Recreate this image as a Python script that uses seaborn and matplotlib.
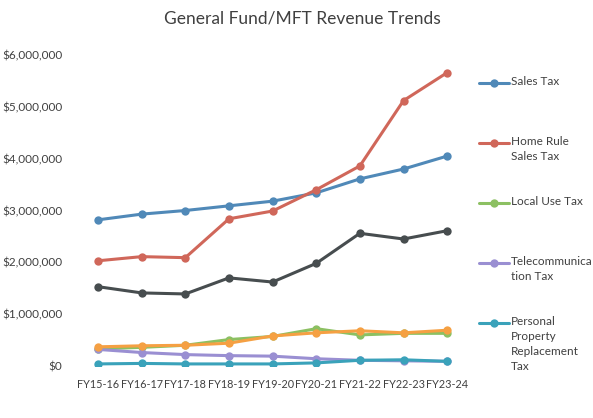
import pandas as pd
import matplotlib.pyplot as plt
import seaborn as sns
from matplotlib.lines import Line2D
from matplotlib.ticker import FuncFormatter

# Fiscal years on the x axis
years = ["FY15-16", "FY16-17", "FY17-18", "FY18-19", "FY19-20",
         "FY20-21", "FY21-22", "FY22-23", "FY23-24"]

# Revenue by source (dollars)
sales_tax = [2820000, 2930000, 3000000, 3090000, 3180000, 3340000, 3610000, 3800000, 4050000]
home_rule = [2030000, 2110000, 2090000, 2840000, 2990000, 3400000, 3860000, 5120000, 5660000]
local_use = [330000, 360000, 400000, 510000, 570000, 720000, 600000, 630000, 630000]
telecom = [320000, 260000, 220000, 200000, 190000, 140000, 110000, 100000, 90000]
pprt = [40000, 50000, 40000, 40000, 40000, 60000, 110000, 120000, 90000]
income_tax = [1530000, 1410000, 1390000, 1700000, 1620000, 1980000, 2560000, 2450000, 2610000]
mft = [370000, 390000, 400000, 440000, 580000, 640000, 680000, 640000, 690000]

series = {
    "Sales Tax": sales_tax,
    "Home Rule Sales Tax": home_rule,
    "Local Use Tax": local_use,
    "Telecommunication Tax": telecom,
    "Personal Property Replacement Tax": pprt,
    "Income Tax": income_tax,
    "Motor Fuel Tax": mft,
}
colors = {
    "Sales Tax": "#5089b8",
    "Home Rule Sales Tax": "#d0675a",
    "Local Use Tax": "#8cc062",
    "Telecommunication Tax": "#9a8fd2",
    "Personal Property Replacement Tax": "#3aa2ba",
    "Income Tax": "#474d4f",
    "Motor Fuel Tax": "#f5a043",
}
# legend text as it wraps in the original (only five entries fit)
legend_labels = ["Sales Tax", "Home Rule\nSales Tax", "Local Use Tax",
                 "Telecommunica\ntion Tax", "Personal\nProperty\nReplacement\nTax"]

df = pd.DataFrame([
    {"Year": y, "Source": name, "Revenue": v}
    for name, vals in series.items()
    for y, v in zip(years, vals)
])

sns.set_style("white")
plt.rcParams["font.family"] = ["Lato", "DejaVu Sans"]

W, H = 593, 418
fig = plt.figure(figsize=(W / 100, H / 100), dpi=100)
ax = fig.add_axes([80.6 / W, 1 - 366 / H, 384 / W, 311 / H])

sns.lineplot(data=df, x="Year", y="Revenue", hue="Source", hue_order=list(series),
             palette=colors, marker="o", markersize=6, markeredgewidth=0,
             linewidth=2.2, sort=False, legend=False, ax=ax)

ax.set_xlim(-0.4, 8.4)
ax.set_ylim(0, 6000000)
ax.set_yticks(range(0, 6000001, 1000000))
ax.yaxis.set_major_formatter(FuncFormatter(lambda v, p: "${:,.0f}".format(v)))
ax.set_xlabel("")
ax.set_ylabel("")
ax.tick_params(axis="both", length=0, colors="#404040")
ax.tick_params(axis="y", pad=13, labelsize=8.5)
ax.tick_params(axis="x", pad=9, labelsize=7.8)
for s in ax.spines.values():
    s.set_visible(False)

fig.text(0.51, 1 - 18 / H, "General Fund/MFT Revenue Trends", ha="center", va="center",
         fontsize=12.5, color="#404040")

# legend drawn by hand so each entry sits in an even slot like the original
names = list(series)[:5]
for i, (name, lab) in enumerate(zip(names, legend_labels)):
    top = 76 + 60 * i
    yc = 1 - (top + 7) / H
    fig.add_artist(Line2D([479 / W, 509 / W], [yc, yc], transform=fig.transFigure,
                          color=colors[name], linewidth=2.2))
    fig.add_artist(Line2D([494 / W], [yc], transform=fig.transFigure,
                          color=colors[name], marker="o", markersize=6, markeredgewidth=0))
    fig.text(511 / W, 1 - top / H, lab, ha="left", va="top", fontsize=8.5,
             color="#404040", linespacing=1.45)

fig.savefig("out.png", dpi=100, facecolor="white")
